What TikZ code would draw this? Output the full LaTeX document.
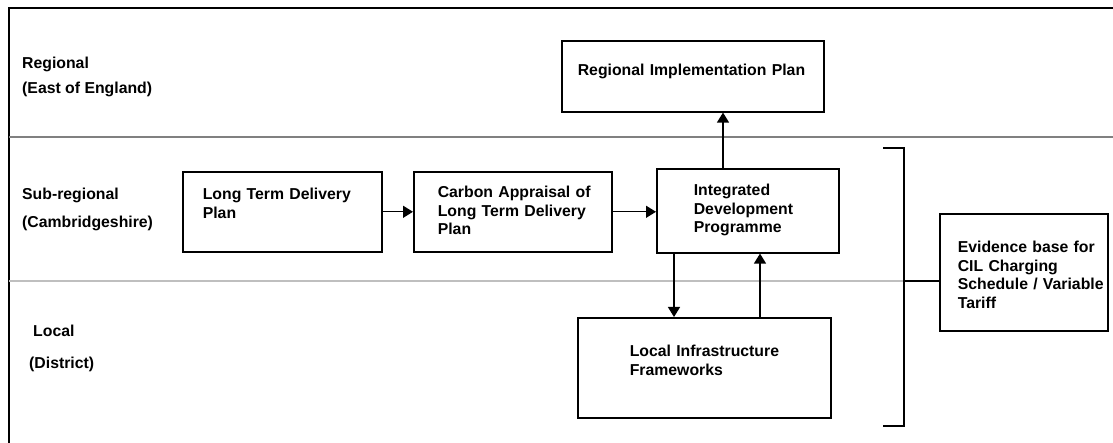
\documentclass[tikz,border=0pt]{standalone}
\usepackage{fontspec}
\setmainfont{Liberation Sans}
\usetikzlibrary{arrows.meta,calc,positioning}

\begin{document}
\begin{tikzpicture}[
		x=1pt, y=-1pt,
		plan/.style={draw, line width=1.6pt, align=left, anchor=north west, inner sep=0pt, font=\bfseries\fontsize{15.8}{18.6}\selectfont},
		textpad/.style={execute at begin node={\leftskip=#1\rightskip=0pt plus 1fil}},
		level/.style={anchor=base west, inner sep=0pt, font=\bfseries\fontsize{15.8}{18.6}\selectfont},
		link/.style={line width=1.3pt, -{Triangle[width=12pt,length=10pt]}},
		band/.style={line width=1.4pt}
	]
		\useasboundingbox (0,0) rectangle (1113,443);

		% frame and level bands
		\draw[line width=1.8pt] (9,443) -- (9,8) -- (1113,8);
		\draw[band, black!50] (9,137) -- (1113,137);
		\draw[band, black!25] (9,281) -- (904,281);

		\node[level] (regional) at (22,69) {Regional};
		\node[level] (east) at (22,94) {(East of England)};
		\node[level] (subregional) at (22,200) {Sub-regional};
		\node[level] (cambs) at (22,228) {(Cambridgeshire)};
		\node[level] (local) at (33,337) {Local};
		\node[level] (district) at (29,368) {(District)};

		% plans
		\node[plan, textpad=16pt, text width=262pt, text height=35pt, text depth=36pt] (rip) at (561,40) {Regional Implementation Plan};
		\node[plan, textpad=20pt, text width=199pt, text height=28pt, text depth=52pt] (ltdp) at (182,171) {Long Term Delivery\\Plan};
		\node[plan, textpad=24pt, text width=198pt, text height=26pt, text depth=54pt] (carbon) at (413,171) {Carbon Appraisal of\\Long Term Delivery\\Plan};
		\node[plan, textpad=37pt, text width=182pt, text height=27pt, text depth=57pt] (idp) at (656,168) {Integrated\\Development\\Programme};
		\node[plan, textpad=52pt, text width=253pt, text height=39pt, text depth=61pt] (lif) at (577,317) {Local Infrastructure\\Frameworks};
		\node[plan, textpad=18pt, text width=168pt, text height=39pt, text depth=78pt] (evidence) at (939,213) {Evidence base for\\CIL Charging\\Schedule / Variable\\Tariff};

		% bracket
		\coordinate (brtop) at (904,148);
		\coordinate (brbot) at (904,426);
		\coordinate (brmid) at (904,281);
		\draw[line width=1.6pt] ([xshift=-21pt]brtop) -- (brtop) -- (brbot) -- ([xshift=-21pt]brbot);
		\draw[line width=1.6pt] (brmid) -- (brmid -| evidence.west);

		% links
		\draw[link] (ltdp.east) -- (carbon.west);
		\draw[link] (carbon.east) -- (carbon.east -| idp.west);
		\draw[link] ([xshift=67pt]idp.north west) -- ([xshift=67pt]idp.north west |- rip.south);
		\draw[link] ([xshift=18pt]idp.south west) -- ([xshift=18pt]idp.south west |- lif.north);
		\draw[link] ([xshift=104pt]idp.south west |- lif.north) -- ([xshift=104pt]idp.south west);
	\end{tikzpicture}
\end{document}
